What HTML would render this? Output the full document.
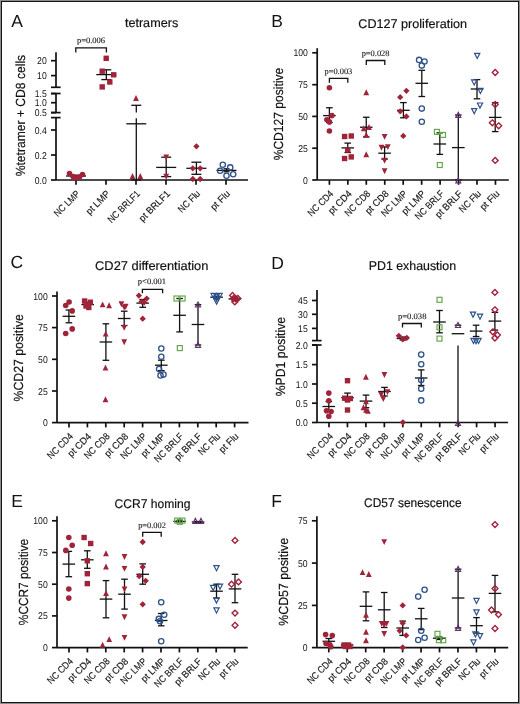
<!DOCTYPE html>
<html><head><meta charset="utf-8"><style>
html,body{margin:0;padding:0;background:#fff;}
svg{display:block;will-change:transform;}
text{text-rendering:geometricPrecision;}
</style></head><body>
<svg width="520" height="704" viewBox="0 0 520 704">
<rect x="0" y="0" width="520" height="704" fill="#8c8c8c"/>
<rect x="1" y="1" width="518" height="702" fill="#161616"/>
<rect x="2" y="2" width="516" height="700" fill="#fff"/>
<text x="11.20" y="26.60" font-family="Liberation Sans" font-size="17.5" fill="#111111">A</text>
<text x="151.55" y="26.90" font-family="Liberation Sans" font-size="12.6" text-anchor="middle" textLength="53.3" lengthAdjust="spacingAndGlyphs" fill="#111111" stroke="#111" stroke-width="0.18">tetramers</text>
<text x="24.80" y="115.60" font-family="Liberation Sans" font-size="13.2" text-anchor="middle" textLength="121.5" lengthAdjust="spacingAndGlyphs" transform="rotate(-90 24.80 115.60)" fill="#111111" stroke="#111" stroke-width="0.18">%tetramer + CD8 cells</text>
<line x1="56.00" y1="52.30" x2="56.00" y2="87.30" stroke="#111111" stroke-width="1.7"/>
<line x1="56.00" y1="93.50" x2="56.00" y2="112.60" stroke="#111111" stroke-width="1.7"/>
<line x1="56.00" y1="117.60" x2="56.00" y2="180.00" stroke="#111111" stroke-width="1.7"/>
<line x1="51.00" y1="87.30" x2="60.60" y2="87.30" stroke="#111111" stroke-width="1.7"/>
<line x1="51.00" y1="93.50" x2="60.60" y2="93.50" stroke="#111111" stroke-width="1.7"/>
<line x1="51.00" y1="112.60" x2="60.60" y2="112.60" stroke="#111111" stroke-width="1.7"/>
<line x1="51.00" y1="117.60" x2="60.60" y2="117.60" stroke="#111111" stroke-width="1.7"/>
<line x1="51.00" y1="60.70" x2="56.00" y2="60.70" stroke="#111111" stroke-width="1.7"/>
<text x="46.70" y="64.20" font-family="Liberation Sans" font-size="9.9" text-anchor="end" textLength="9.6" lengthAdjust="spacingAndGlyphs" fill="#111111">20</text>
<line x1="51.00" y1="75.60" x2="56.00" y2="75.60" stroke="#111111" stroke-width="1.7"/>
<text x="46.70" y="79.10" font-family="Liberation Sans" font-size="9.9" text-anchor="end" textLength="9.6" lengthAdjust="spacingAndGlyphs" fill="#111111">10</text>
<line x1="51.00" y1="93.60" x2="56.00" y2="93.60" stroke="#111111" stroke-width="1.7"/>
<text x="46.70" y="97.10" font-family="Liberation Sans" font-size="9.9" text-anchor="end" textLength="12.0" lengthAdjust="spacingAndGlyphs" fill="#111111">1.5</text>
<line x1="51.00" y1="102.70" x2="56.00" y2="102.70" stroke="#111111" stroke-width="1.7"/>
<text x="46.70" y="106.20" font-family="Liberation Sans" font-size="9.9" text-anchor="end" textLength="12.0" lengthAdjust="spacingAndGlyphs" fill="#111111">1.0</text>
<line x1="51.00" y1="112.60" x2="56.00" y2="112.60" stroke="#111111" stroke-width="1.7"/>
<text x="46.70" y="116.10" font-family="Liberation Sans" font-size="9.9" text-anchor="end" textLength="12.0" lengthAdjust="spacingAndGlyphs" fill="#111111">0.5</text>
<line x1="51.00" y1="130.00" x2="56.00" y2="130.00" stroke="#111111" stroke-width="1.7"/>
<text x="46.70" y="133.50" font-family="Liberation Sans" font-size="9.9" text-anchor="end" textLength="12.0" lengthAdjust="spacingAndGlyphs" fill="#111111">0.4</text>
<line x1="51.00" y1="155.00" x2="56.00" y2="155.00" stroke="#111111" stroke-width="1.7"/>
<text x="46.70" y="158.50" font-family="Liberation Sans" font-size="9.9" text-anchor="end" textLength="12.0" lengthAdjust="spacingAndGlyphs" fill="#111111">0.2</text>
<line x1="51.00" y1="180.00" x2="56.00" y2="180.00" stroke="#111111" stroke-width="1.7"/>
<text x="46.70" y="183.50" font-family="Liberation Sans" font-size="9.9" text-anchor="end" textLength="12.0" lengthAdjust="spacingAndGlyphs" fill="#111111">0.0</text>
<line x1="56.00" y1="180.00" x2="248.00" y2="180.00" stroke="#111111" stroke-width="1.7"/>
<line x1="76.00" y1="180.00" x2="76.00" y2="184.80" stroke="#111111" stroke-width="1.7"/>
<text x="80.60" y="194.40" font-family="Liberation Sans" font-size="9.7" text-anchor="end" textLength="32.3" lengthAdjust="spacingAndGlyphs" transform="rotate(-45 80.60 194.40)" fill="#111111" stroke="#1c1c1c" stroke-width="0.15">NC LMP</text>
<line x1="106.00" y1="180.00" x2="106.00" y2="184.80" stroke="#111111" stroke-width="1.7"/>
<text x="110.60" y="194.40" font-family="Liberation Sans" font-size="9.7" text-anchor="end" textLength="29.4" lengthAdjust="spacingAndGlyphs" transform="rotate(-45 110.60 194.40)" fill="#111111" stroke="#1c1c1c" stroke-width="0.15">pt LMP</text>
<line x1="136.00" y1="180.00" x2="136.00" y2="184.80" stroke="#111111" stroke-width="1.7"/>
<text x="140.60" y="194.40" font-family="Liberation Sans" font-size="9.7" text-anchor="end" textLength="41.3" lengthAdjust="spacingAndGlyphs" transform="rotate(-45 140.60 194.40)" fill="#111111" stroke="#1c1c1c" stroke-width="0.15">NC BRLF1</text>
<line x1="166.00" y1="180.00" x2="166.00" y2="184.80" stroke="#111111" stroke-width="1.7"/>
<text x="170.60" y="194.40" font-family="Liberation Sans" font-size="9.7" text-anchor="end" textLength="39.3" lengthAdjust="spacingAndGlyphs" transform="rotate(-45 170.60 194.40)" fill="#111111" stroke="#1c1c1c" stroke-width="0.15">pt BRLF1</text>
<line x1="196.00" y1="180.00" x2="196.00" y2="184.80" stroke="#111111" stroke-width="1.7"/>
<text x="200.60" y="194.40" font-family="Liberation Sans" font-size="9.7" text-anchor="end" textLength="26.6" lengthAdjust="spacingAndGlyphs" transform="rotate(-45 200.60 194.40)" fill="#111111" stroke="#1c1c1c" stroke-width="0.15">NC Flu</text>
<line x1="226.00" y1="180.00" x2="226.00" y2="184.80" stroke="#111111" stroke-width="1.7"/>
<text x="230.60" y="194.40" font-family="Liberation Sans" font-size="9.7" text-anchor="end" textLength="23.2" lengthAdjust="spacingAndGlyphs" transform="rotate(-45 230.60 194.40)" fill="#111111" stroke="#1c1c1c" stroke-width="0.15">pt Flu</text>
<polyline points="75.8,52.599999999999994 75.8,47.8 106.4,47.8 106.4,52.599999999999994" fill="none" stroke="#111111" stroke-width="1.3"/>
<text x="91.00" y="42.80" font-family="Liberation Serif" font-size="8.4" text-anchor="middle" textLength="28.2" lengthAdjust="spacingAndGlyphs" fill="#1a1a1a" stroke="#1a1a1a" stroke-width="0.12">p=0.006</text>
<line x1="76.00" y1="175.20" x2="76.00" y2="177.00" stroke="#111111" stroke-width="1.3"/>
<line x1="66.00" y1="176.00" x2="86.00" y2="176.00" stroke="#111111" stroke-width="1.3"/>
<line x1="71.00" y1="175.20" x2="81.00" y2="175.20" stroke="#111111" stroke-width="1.3"/>
<line x1="71.00" y1="177.00" x2="81.00" y2="177.00" stroke="#111111" stroke-width="1.3"/>
<line x1="106.30" y1="69.80" x2="106.30" y2="79.60" stroke="#111111" stroke-width="1.3"/>
<line x1="96.30" y1="74.60" x2="116.30" y2="74.60" stroke="#111111" stroke-width="1.3"/>
<line x1="101.30" y1="69.80" x2="111.30" y2="69.80" stroke="#111111" stroke-width="1.3"/>
<line x1="101.30" y1="79.60" x2="111.30" y2="79.60" stroke="#111111" stroke-width="1.3"/>
<line x1="136.30" y1="105.30" x2="136.30" y2="112.40" stroke="#111111" stroke-width="1.3"/>
<line x1="136.30" y1="118.20" x2="136.30" y2="180.00" stroke="#111111" stroke-width="1.3"/>
<line x1="126.30" y1="123.80" x2="146.30" y2="123.80" stroke="#111111" stroke-width="1.3"/>
<line x1="131.30" y1="105.30" x2="141.30" y2="105.30" stroke="#111111" stroke-width="1.3"/>
<line x1="131.30" y1="180.00" x2="141.30" y2="180.00" stroke="#111111" stroke-width="1.3"/>
<line x1="166.20" y1="157.20" x2="166.20" y2="176.60" stroke="#111111" stroke-width="1.3"/>
<line x1="156.20" y1="167.40" x2="176.20" y2="167.40" stroke="#111111" stroke-width="1.3"/>
<line x1="161.20" y1="157.20" x2="171.20" y2="157.20" stroke="#111111" stroke-width="1.3"/>
<line x1="161.20" y1="176.60" x2="171.20" y2="176.60" stroke="#111111" stroke-width="1.3"/>
<line x1="196.40" y1="162.20" x2="196.40" y2="174.30" stroke="#111111" stroke-width="1.3"/>
<line x1="186.40" y1="168.30" x2="206.40" y2="168.30" stroke="#111111" stroke-width="1.3"/>
<line x1="191.40" y1="162.20" x2="201.40" y2="162.20" stroke="#111111" stroke-width="1.3"/>
<line x1="191.40" y1="174.30" x2="201.40" y2="174.30" stroke="#111111" stroke-width="1.3"/>
<line x1="226.50" y1="168.80" x2="226.50" y2="171.80" stroke="#111111" stroke-width="1.3"/>
<line x1="216.50" y1="170.40" x2="236.50" y2="170.40" stroke="#111111" stroke-width="1.3"/>
<line x1="223.50" y1="168.80" x2="229.50" y2="168.80" stroke="#111111" stroke-width="1.3"/>
<line x1="223.50" y1="171.80" x2="229.50" y2="171.80" stroke="#111111" stroke-width="1.3"/>
<circle cx="69.5" cy="173.5" r="2.8" fill="#a02439"/>
<circle cx="73" cy="176.5" r="2.8" fill="#a02439"/>
<circle cx="76.5" cy="178" r="2.8" fill="#a02439"/>
<circle cx="79.5" cy="177" r="2.8" fill="#a02439"/>
<circle cx="82.5" cy="174.5" r="2.8" fill="#a02439"/>
<rect x="103.50" y="55.60" width="5.4" height="5.4" fill="#a02439"/>
<rect x="99.50" y="68.50" width="5.4" height="5.4" fill="#a02439"/>
<rect x="111.00" y="72.10" width="5.4" height="5.4" fill="#a02439"/>
<rect x="107.10" y="79.30" width="5.4" height="5.4" fill="#a02439"/>
<rect x="99.50" y="84.20" width="5.4" height="5.4" fill="#a02439"/>
<polygon points="136.00,95.05 138.90,100.95 133.10,100.95" fill="#a02439"/>
<polygon points="132.50,173.05 135.40,178.95 129.60,178.95" fill="#a02439"/>
<polygon points="140.30,173.05 143.20,178.95 137.40,178.95" fill="#a02439"/>
<polygon points="166.20,160.35 169.10,154.45 163.30,154.45" fill="#a02439"/>
<polygon points="166.20,179.65 169.10,173.75 163.30,173.75" fill="#a02439"/>
<polygon points="196.40,143.15 199.55,146.30 196.40,149.45 193.25,146.30" fill="#a02439"/>
<polygon points="192.80,165.15 195.95,168.30 192.80,171.45 189.65,168.30" fill="#a02439"/>
<polygon points="200.20,165.15 203.35,168.30 200.20,171.45 197.05,168.30" fill="#a02439"/>
<polygon points="192.80,175.85 195.95,179.00 192.80,182.15 189.65,179.00" fill="#a02439"/>
<polygon points="200.20,175.85 203.35,179.00 200.20,182.15 197.05,179.00" fill="#a02439"/>
<circle cx="222.8" cy="164.7" r="2.65" fill="none" stroke="#2d5189" stroke-width="1.3"/>
<circle cx="230.2" cy="167.4" r="2.65" fill="none" stroke="#2d5189" stroke-width="1.3"/>
<circle cx="220.1" cy="170.8" r="2.65" fill="none" stroke="#2d5189" stroke-width="1.3"/>
<circle cx="233.2" cy="174.2" r="2.65" fill="none" stroke="#2d5189" stroke-width="1.3"/>
<circle cx="226.5" cy="175.8" r="2.65" fill="none" stroke="#2d5189" stroke-width="1.3"/>
<text x="271.20" y="26.50" font-family="Liberation Sans" font-size="17.5" fill="#111111">B</text>
<text x="412.65" y="27.80" font-family="Liberation Sans" font-size="12.6" text-anchor="middle" textLength="108.7" lengthAdjust="spacingAndGlyphs" fill="#111111" stroke="#111" stroke-width="0.18">CD127 proliferation</text>
<text x="282.70" y="114.00" font-family="Liberation Sans" font-size="13.2" text-anchor="middle" textLength="92.7" lengthAdjust="spacingAndGlyphs" transform="rotate(-90 282.70 114.00)" fill="#111111" stroke="#111" stroke-width="0.18">%CD127 positive</text>
<line x1="317.20" y1="48.20" x2="317.20" y2="180.00" stroke="#111111" stroke-width="1.7"/>
<line x1="312.20" y1="52.80" x2="317.20" y2="52.80" stroke="#111111" stroke-width="1.7"/>
<text x="307.90" y="56.30" font-family="Liberation Sans" font-size="9.9" text-anchor="end" textLength="14.4" lengthAdjust="spacingAndGlyphs" fill="#111111">100</text>
<line x1="312.20" y1="84.70" x2="317.20" y2="84.70" stroke="#111111" stroke-width="1.7"/>
<text x="307.90" y="88.20" font-family="Liberation Sans" font-size="9.9" text-anchor="end" textLength="9.6" lengthAdjust="spacingAndGlyphs" fill="#111111">75</text>
<line x1="312.20" y1="116.40" x2="317.20" y2="116.40" stroke="#111111" stroke-width="1.7"/>
<text x="307.90" y="119.90" font-family="Liberation Sans" font-size="9.9" text-anchor="end" textLength="9.6" lengthAdjust="spacingAndGlyphs" fill="#111111">50</text>
<line x1="312.20" y1="148.20" x2="317.20" y2="148.20" stroke="#111111" stroke-width="1.7"/>
<text x="307.90" y="151.70" font-family="Liberation Sans" font-size="9.9" text-anchor="end" textLength="9.6" lengthAdjust="spacingAndGlyphs" fill="#111111">25</text>
<line x1="312.20" y1="180.00" x2="317.20" y2="180.00" stroke="#111111" stroke-width="1.7"/>
<text x="307.90" y="183.50" font-family="Liberation Sans" font-size="9.9" text-anchor="end" textLength="4.8" lengthAdjust="spacingAndGlyphs" fill="#111111">0</text>
<line x1="317.20" y1="180.00" x2="508.80" y2="180.00" stroke="#111111" stroke-width="1.7"/>
<line x1="329.40" y1="180.00" x2="329.40" y2="184.80" stroke="#111111" stroke-width="1.7"/>
<text x="334.00" y="194.40" font-family="Liberation Sans" font-size="9.7" text-anchor="end" textLength="31.8" lengthAdjust="spacingAndGlyphs" transform="rotate(-45 334.00 194.40)" fill="#111111" stroke="#1c1c1c" stroke-width="0.15">NC CD4</text>
<line x1="347.85" y1="180.00" x2="347.85" y2="184.80" stroke="#111111" stroke-width="1.7"/>
<text x="352.45" y="194.40" font-family="Liberation Sans" font-size="9.7" text-anchor="end" textLength="28.9" lengthAdjust="spacingAndGlyphs" transform="rotate(-45 352.45 194.40)" fill="#111111" stroke="#1c1c1c" stroke-width="0.15">pt CD4</text>
<line x1="366.30" y1="180.00" x2="366.30" y2="184.80" stroke="#111111" stroke-width="1.7"/>
<text x="370.90" y="194.40" font-family="Liberation Sans" font-size="9.7" text-anchor="end" textLength="31.8" lengthAdjust="spacingAndGlyphs" transform="rotate(-45 370.90 194.40)" fill="#111111" stroke="#1c1c1c" stroke-width="0.15">NC CD8</text>
<line x1="384.75" y1="180.00" x2="384.75" y2="184.80" stroke="#111111" stroke-width="1.7"/>
<text x="389.35" y="194.40" font-family="Liberation Sans" font-size="9.7" text-anchor="end" textLength="28.9" lengthAdjust="spacingAndGlyphs" transform="rotate(-45 389.35 194.40)" fill="#111111" stroke="#1c1c1c" stroke-width="0.15">pt CD8</text>
<line x1="403.20" y1="180.00" x2="403.20" y2="184.80" stroke="#111111" stroke-width="1.7"/>
<text x="407.80" y="194.40" font-family="Liberation Sans" font-size="9.7" text-anchor="end" textLength="32.3" lengthAdjust="spacingAndGlyphs" transform="rotate(-45 407.80 194.40)" fill="#111111" stroke="#1c1c1c" stroke-width="0.15">NC LMP</text>
<line x1="421.65" y1="180.00" x2="421.65" y2="184.80" stroke="#111111" stroke-width="1.7"/>
<text x="426.25" y="194.40" font-family="Liberation Sans" font-size="9.7" text-anchor="end" textLength="29.4" lengthAdjust="spacingAndGlyphs" transform="rotate(-45 426.25 194.40)" fill="#111111" stroke="#1c1c1c" stroke-width="0.15">pt LMP</text>
<line x1="440.10" y1="180.00" x2="440.10" y2="184.80" stroke="#111111" stroke-width="1.7"/>
<text x="444.70" y="194.40" font-family="Liberation Sans" font-size="9.7" text-anchor="end" textLength="36.6" lengthAdjust="spacingAndGlyphs" transform="rotate(-45 444.70 194.40)" fill="#111111" stroke="#1c1c1c" stroke-width="0.15">NC BRLF</text>
<line x1="458.55" y1="180.00" x2="458.55" y2="184.80" stroke="#111111" stroke-width="1.7"/>
<text x="463.15" y="194.40" font-family="Liberation Sans" font-size="9.7" text-anchor="end" textLength="34.1" lengthAdjust="spacingAndGlyphs" transform="rotate(-45 463.15 194.40)" fill="#111111" stroke="#1c1c1c" stroke-width="0.15">pt BRLF</text>
<line x1="477.00" y1="180.00" x2="477.00" y2="184.80" stroke="#111111" stroke-width="1.7"/>
<text x="481.60" y="194.40" font-family="Liberation Sans" font-size="9.7" text-anchor="end" textLength="26.6" lengthAdjust="spacingAndGlyphs" transform="rotate(-45 481.60 194.40)" fill="#111111" stroke="#1c1c1c" stroke-width="0.15">NC Flu</text>
<line x1="495.45" y1="180.00" x2="495.45" y2="184.80" stroke="#111111" stroke-width="1.7"/>
<text x="500.05" y="194.40" font-family="Liberation Sans" font-size="9.7" text-anchor="end" textLength="23.2" lengthAdjust="spacingAndGlyphs" transform="rotate(-45 500.05 194.40)" fill="#111111" stroke="#1c1c1c" stroke-width="0.15">pt Flu</text>
<polyline points="329.4,82.7 329.4,78.3 347.8,78.3 347.8,82.7" fill="none" stroke="#111111" stroke-width="1.3"/>
<text x="338.40" y="74.00" font-family="Liberation Serif" font-size="8.4" text-anchor="middle" textLength="27.9" lengthAdjust="spacingAndGlyphs" fill="#1a1a1a" stroke="#1a1a1a" stroke-width="0.12">p=0.003</text>
<polyline points="366.3,64.9 366.3,60.5 384.8,60.5 384.8,64.9" fill="none" stroke="#111111" stroke-width="1.3"/>
<text x="375.60" y="55.90" font-family="Liberation Serif" font-size="8.4" text-anchor="middle" textLength="27.9" lengthAdjust="spacingAndGlyphs" fill="#1a1a1a" stroke="#1a1a1a" stroke-width="0.12">p=0.028</text>
<line x1="329.40" y1="107.75" x2="329.40" y2="122.50" stroke="#111111" stroke-width="1.3"/>
<line x1="323.10" y1="115.60" x2="335.70" y2="115.60" stroke="#111111" stroke-width="1.3"/>
<line x1="326.10" y1="107.75" x2="332.70" y2="107.75" stroke="#111111" stroke-width="1.3"/>
<line x1="326.10" y1="122.50" x2="332.70" y2="122.50" stroke="#111111" stroke-width="1.3"/>
<line x1="347.75" y1="143.10" x2="347.75" y2="152.50" stroke="#111111" stroke-width="1.3"/>
<line x1="341.45" y1="147.90" x2="354.05" y2="147.90" stroke="#111111" stroke-width="1.3"/>
<line x1="344.45" y1="143.10" x2="351.05" y2="143.10" stroke="#111111" stroke-width="1.3"/>
<line x1="344.45" y1="152.50" x2="351.05" y2="152.50" stroke="#111111" stroke-width="1.3"/>
<line x1="366.25" y1="117.25" x2="366.25" y2="136.90" stroke="#111111" stroke-width="1.3"/>
<line x1="359.95" y1="127.25" x2="372.55" y2="127.25" stroke="#111111" stroke-width="1.3"/>
<line x1="362.95" y1="117.25" x2="369.55" y2="117.25" stroke="#111111" stroke-width="1.3"/>
<line x1="362.95" y1="136.90" x2="369.55" y2="136.90" stroke="#111111" stroke-width="1.3"/>
<line x1="384.60" y1="146.90" x2="384.60" y2="159.10" stroke="#111111" stroke-width="1.3"/>
<line x1="378.30" y1="153.20" x2="390.90" y2="153.20" stroke="#111111" stroke-width="1.3"/>
<line x1="381.30" y1="146.90" x2="387.90" y2="146.90" stroke="#111111" stroke-width="1.3"/>
<line x1="381.30" y1="159.10" x2="387.90" y2="159.10" stroke="#111111" stroke-width="1.3"/>
<line x1="403.40" y1="102.60" x2="403.40" y2="117.80" stroke="#111111" stroke-width="1.3"/>
<line x1="397.10" y1="110.30" x2="409.70" y2="110.30" stroke="#111111" stroke-width="1.3"/>
<line x1="400.10" y1="102.60" x2="406.70" y2="102.60" stroke="#111111" stroke-width="1.3"/>
<line x1="400.10" y1="117.80" x2="406.70" y2="117.80" stroke="#111111" stroke-width="1.3"/>
<line x1="421.80" y1="70.30" x2="421.80" y2="96.50" stroke="#111111" stroke-width="1.3"/>
<line x1="415.50" y1="83.30" x2="428.10" y2="83.30" stroke="#111111" stroke-width="1.3"/>
<line x1="418.50" y1="70.30" x2="425.10" y2="70.30" stroke="#111111" stroke-width="1.3"/>
<line x1="418.50" y1="96.50" x2="425.10" y2="96.50" stroke="#111111" stroke-width="1.3"/>
<line x1="439.80" y1="132.80" x2="439.80" y2="154.40" stroke="#111111" stroke-width="1.3"/>
<line x1="433.50" y1="144.00" x2="446.10" y2="144.00" stroke="#111111" stroke-width="1.3"/>
<line x1="436.50" y1="132.80" x2="443.10" y2="132.80" stroke="#111111" stroke-width="1.3"/>
<line x1="436.50" y1="154.40" x2="443.10" y2="154.40" stroke="#111111" stroke-width="1.3"/>
<line x1="458.30" y1="115.00" x2="458.30" y2="180.00" stroke="#111111" stroke-width="1.3"/>
<line x1="452.00" y1="147.60" x2="464.60" y2="147.60" stroke="#111111" stroke-width="1.3"/>
<line x1="455.00" y1="115.00" x2="461.60" y2="115.00" stroke="#111111" stroke-width="1.3"/>
<line x1="455.00" y1="180.00" x2="461.60" y2="180.00" stroke="#111111" stroke-width="1.3"/>
<line x1="477.00" y1="79.60" x2="477.00" y2="98.80" stroke="#111111" stroke-width="1.3"/>
<line x1="470.70" y1="89.00" x2="483.30" y2="89.00" stroke="#111111" stroke-width="1.3"/>
<line x1="473.70" y1="79.60" x2="480.30" y2="79.60" stroke="#111111" stroke-width="1.3"/>
<line x1="473.70" y1="98.80" x2="480.30" y2="98.80" stroke="#111111" stroke-width="1.3"/>
<line x1="495.20" y1="102.70" x2="495.20" y2="131.60" stroke="#111111" stroke-width="1.3"/>
<line x1="488.90" y1="117.40" x2="501.50" y2="117.40" stroke="#111111" stroke-width="1.3"/>
<line x1="491.90" y1="102.70" x2="498.50" y2="102.70" stroke="#111111" stroke-width="1.3"/>
<line x1="491.90" y1="131.60" x2="498.50" y2="131.60" stroke="#111111" stroke-width="1.3"/>
<circle cx="329.4" cy="87.75" r="2.8" fill="#a02439"/>
<circle cx="331.9" cy="115.6" r="2.8" fill="#a02439"/>
<circle cx="326.9" cy="119.75" r="2.8" fill="#a02439"/>
<circle cx="329.4" cy="121.9" r="2.8" fill="#a02439"/>
<circle cx="329.4" cy="131" r="2.8" fill="#a02439"/>
<rect x="341.90" y="133.80" width="5.4" height="5.4" fill="#a02439"/>
<rect x="348.55" y="133.30" width="5.4" height="5.4" fill="#a02439"/>
<rect x="345.05" y="147.30" width="5.4" height="5.4" fill="#a02439"/>
<rect x="341.90" y="155.80" width="5.4" height="5.4" fill="#a02439"/>
<rect x="348.55" y="154.20" width="5.4" height="5.4" fill="#a02439"/>
<polygon points="366.25,89.35 369.15,95.25 363.35,95.25" fill="#a02439"/>
<polygon points="363.75,125.35 366.65,131.25 360.85,131.25" fill="#a02439"/>
<polygon points="369.00,124.10 371.90,130.00 366.10,130.00" fill="#a02439"/>
<polygon points="366.25,131.85 369.15,137.75 363.35,137.75" fill="#a02439"/>
<polygon points="366.25,151.25 369.15,157.15 363.35,157.15" fill="#a02439"/>
<polygon points="384.60,139.85 387.50,133.95 381.70,133.95" fill="#a02439"/>
<polygon points="381.50,150.75 384.40,144.85 378.60,144.85" fill="#a02439"/>
<polygon points="387.80,150.05 390.70,144.15 384.90,144.15" fill="#a02439"/>
<polygon points="384.60,163.75 387.50,157.85 381.70,157.85" fill="#a02439"/>
<polygon points="384.60,174.15 387.50,168.25 381.70,168.25" fill="#a02439"/>
<polygon points="406.40,87.65 409.55,90.80 406.40,93.95 403.25,90.80" fill="#a02439"/>
<polygon points="400.20,94.05 403.35,97.20 400.20,100.35 397.05,97.20" fill="#a02439"/>
<polygon points="400.20,108.15 403.35,111.30 400.20,114.45 397.05,111.30" fill="#a02439"/>
<polygon points="406.40,113.25 409.55,116.40 406.40,119.55 403.25,116.40" fill="#a02439"/>
<polygon points="403.30,132.75 406.45,135.90 403.30,139.05 400.15,135.90" fill="#a02439"/>
<circle cx="419.1" cy="59.9" r="2.65" fill="none" stroke="#2d5189" stroke-width="1.3"/>
<circle cx="424.5" cy="61.5" r="2.65" fill="none" stroke="#2d5189" stroke-width="1.3"/>
<circle cx="421.8" cy="65.6" r="2.65" fill="none" stroke="#2d5189" stroke-width="1.3"/>
<circle cx="421.8" cy="108.6" r="2.65" fill="none" stroke="#2d5189" stroke-width="1.3"/>
<circle cx="421.8" cy="121.8" r="2.65" fill="none" stroke="#2d5189" stroke-width="1.3"/>
<rect x="434.40" y="129.40" width="5.0" height="5.0" fill="none" stroke="#62a548" stroke-width="1.15"/>
<rect x="440.50" y="132.40" width="5.0" height="5.0" fill="none" stroke="#62a548" stroke-width="1.15"/>
<rect x="437.30" y="162.50" width="5.0" height="5.0" fill="none" stroke="#62a548" stroke-width="1.15"/>
<polygon points="458.30,112.40 460.80,117.30 455.80,117.30" fill="none" stroke="#63306e" stroke-width="1.2"/>
<polygon points="458.30,178.00 460.80,182.90 455.80,182.90" fill="none" stroke="#63306e" stroke-width="1.2"/>
<polygon points="477.20,58.40 479.80,53.30 474.60,53.30" fill="none" stroke="#2d5189" stroke-width="1.2"/>
<polygon points="474.20,85.00 476.80,79.90 471.60,79.90" fill="none" stroke="#2d5189" stroke-width="1.2"/>
<polygon points="480.40,93.50 483.00,88.40 477.80,88.40" fill="none" stroke="#2d5189" stroke-width="1.2"/>
<polygon points="480.00,108.10 482.60,103.00 477.40,103.00" fill="none" stroke="#2d5189" stroke-width="1.2"/>
<polygon points="474.20,113.70 476.80,108.60 471.60,108.60" fill="none" stroke="#2d5189" stroke-width="1.2"/>
<polygon points="495.20,69.55 498.15,72.50 495.20,75.45 492.25,72.50" fill="none" stroke="#a21f39" stroke-width="1.35"/>
<polygon points="495.20,101.55 498.15,104.50 495.20,107.45 492.25,104.50" fill="none" stroke="#a21f39" stroke-width="1.35"/>
<polygon points="492.30,119.85 495.25,122.80 492.30,125.75 489.35,122.80" fill="none" stroke="#a21f39" stroke-width="1.35"/>
<polygon points="498.70,122.85 501.65,125.80 498.70,128.75 495.75,125.80" fill="none" stroke="#a21f39" stroke-width="1.35"/>
<polygon points="495.20,157.45 498.15,160.40 495.20,163.35 492.25,160.40" fill="none" stroke="#a21f39" stroke-width="1.35"/>
<text x="10.50" y="267.90" font-family="Liberation Sans" font-size="17.5" fill="#111111">C</text>
<text x="151.75" y="269.80" font-family="Liberation Sans" font-size="12.6" text-anchor="middle" textLength="113.3" lengthAdjust="spacingAndGlyphs" fill="#111111" stroke="#111" stroke-width="0.18">CD27 differentiation</text>
<text x="23.40" y="357.80" font-family="Liberation Sans" font-size="13.2" text-anchor="middle" textLength="87.4" lengthAdjust="spacingAndGlyphs" transform="rotate(-90 23.40 357.80)" fill="#111111" stroke="#111" stroke-width="0.18">%CD27 positive</text>
<line x1="57.00" y1="291.60" x2="57.00" y2="422.60" stroke="#111111" stroke-width="1.7"/>
<line x1="52.00" y1="296.00" x2="57.00" y2="296.00" stroke="#111111" stroke-width="1.7"/>
<text x="47.70" y="299.50" font-family="Liberation Sans" font-size="9.9" text-anchor="end" textLength="14.4" lengthAdjust="spacingAndGlyphs" fill="#111111">100</text>
<line x1="52.00" y1="327.60" x2="57.00" y2="327.60" stroke="#111111" stroke-width="1.7"/>
<text x="47.70" y="331.10" font-family="Liberation Sans" font-size="9.9" text-anchor="end" textLength="9.6" lengthAdjust="spacingAndGlyphs" fill="#111111">75</text>
<line x1="52.00" y1="359.30" x2="57.00" y2="359.30" stroke="#111111" stroke-width="1.7"/>
<text x="47.70" y="362.80" font-family="Liberation Sans" font-size="9.9" text-anchor="end" textLength="9.6" lengthAdjust="spacingAndGlyphs" fill="#111111">50</text>
<line x1="52.00" y1="391.00" x2="57.00" y2="391.00" stroke="#111111" stroke-width="1.7"/>
<text x="47.70" y="394.50" font-family="Liberation Sans" font-size="9.9" text-anchor="end" textLength="9.6" lengthAdjust="spacingAndGlyphs" fill="#111111">25</text>
<line x1="52.00" y1="422.60" x2="57.00" y2="422.60" stroke="#111111" stroke-width="1.7"/>
<text x="47.70" y="426.10" font-family="Liberation Sans" font-size="9.9" text-anchor="end" textLength="4.8" lengthAdjust="spacingAndGlyphs" fill="#111111">0</text>
<line x1="57.00" y1="422.60" x2="248.50" y2="422.60" stroke="#111111" stroke-width="1.7"/>
<line x1="69.00" y1="422.60" x2="69.00" y2="427.40" stroke="#111111" stroke-width="1.7"/>
<text x="73.60" y="437.00" font-family="Liberation Sans" font-size="9.7" text-anchor="end" textLength="31.8" lengthAdjust="spacingAndGlyphs" transform="rotate(-45 73.60 437.00)" fill="#111111" stroke="#1c1c1c" stroke-width="0.15">NC CD4</text>
<line x1="87.40" y1="422.60" x2="87.40" y2="427.40" stroke="#111111" stroke-width="1.7"/>
<text x="92.00" y="437.00" font-family="Liberation Sans" font-size="9.7" text-anchor="end" textLength="28.9" lengthAdjust="spacingAndGlyphs" transform="rotate(-45 92.00 437.00)" fill="#111111" stroke="#1c1c1c" stroke-width="0.15">pt CD4</text>
<line x1="105.80" y1="422.60" x2="105.80" y2="427.40" stroke="#111111" stroke-width="1.7"/>
<text x="110.40" y="437.00" font-family="Liberation Sans" font-size="9.7" text-anchor="end" textLength="31.8" lengthAdjust="spacingAndGlyphs" transform="rotate(-45 110.40 437.00)" fill="#111111" stroke="#1c1c1c" stroke-width="0.15">NC CD8</text>
<line x1="124.20" y1="422.60" x2="124.20" y2="427.40" stroke="#111111" stroke-width="1.7"/>
<text x="128.80" y="437.00" font-family="Liberation Sans" font-size="9.7" text-anchor="end" textLength="28.9" lengthAdjust="spacingAndGlyphs" transform="rotate(-45 128.80 437.00)" fill="#111111" stroke="#1c1c1c" stroke-width="0.15">pt CD8</text>
<line x1="142.60" y1="422.60" x2="142.60" y2="427.40" stroke="#111111" stroke-width="1.7"/>
<text x="147.20" y="437.00" font-family="Liberation Sans" font-size="9.7" text-anchor="end" textLength="32.3" lengthAdjust="spacingAndGlyphs" transform="rotate(-45 147.20 437.00)" fill="#111111" stroke="#1c1c1c" stroke-width="0.15">NC LMP</text>
<line x1="161.00" y1="422.60" x2="161.00" y2="427.40" stroke="#111111" stroke-width="1.7"/>
<text x="165.60" y="437.00" font-family="Liberation Sans" font-size="9.7" text-anchor="end" textLength="29.4" lengthAdjust="spacingAndGlyphs" transform="rotate(-45 165.60 437.00)" fill="#111111" stroke="#1c1c1c" stroke-width="0.15">pt LMP</text>
<line x1="179.40" y1="422.60" x2="179.40" y2="427.40" stroke="#111111" stroke-width="1.7"/>
<text x="184.00" y="437.00" font-family="Liberation Sans" font-size="9.7" text-anchor="end" textLength="36.6" lengthAdjust="spacingAndGlyphs" transform="rotate(-45 184.00 437.00)" fill="#111111" stroke="#1c1c1c" stroke-width="0.15">NC BRLF</text>
<line x1="197.80" y1="422.60" x2="197.80" y2="427.40" stroke="#111111" stroke-width="1.7"/>
<text x="202.40" y="437.00" font-family="Liberation Sans" font-size="9.7" text-anchor="end" textLength="34.1" lengthAdjust="spacingAndGlyphs" transform="rotate(-45 202.40 437.00)" fill="#111111" stroke="#1c1c1c" stroke-width="0.15">pt BRLF</text>
<line x1="216.20" y1="422.60" x2="216.20" y2="427.40" stroke="#111111" stroke-width="1.7"/>
<text x="220.80" y="437.00" font-family="Liberation Sans" font-size="9.7" text-anchor="end" textLength="26.6" lengthAdjust="spacingAndGlyphs" transform="rotate(-45 220.80 437.00)" fill="#111111" stroke="#1c1c1c" stroke-width="0.15">NC Flu</text>
<line x1="234.60" y1="422.60" x2="234.60" y2="427.40" stroke="#111111" stroke-width="1.7"/>
<text x="239.20" y="437.00" font-family="Liberation Sans" font-size="9.7" text-anchor="end" textLength="23.2" lengthAdjust="spacingAndGlyphs" transform="rotate(-45 239.20 437.00)" fill="#111111" stroke="#1c1c1c" stroke-width="0.15">pt Flu</text>
<polyline points="142.4,293.3 142.4,289.3 162.6,289.3 162.6,293.3" fill="none" stroke="#111111" stroke-width="1.3"/>
<text x="152.00" y="284.10" font-family="Liberation Serif" font-size="8.4" text-anchor="middle" textLength="28.3" lengthAdjust="spacingAndGlyphs" fill="#1a1a1a" stroke="#1a1a1a" stroke-width="0.12">p&lt;0.001</text>
<line x1="68.90" y1="310.00" x2="68.90" y2="322.80" stroke="#111111" stroke-width="1.3"/>
<line x1="62.60" y1="316.30" x2="75.20" y2="316.30" stroke="#111111" stroke-width="1.3"/>
<line x1="65.60" y1="310.00" x2="72.20" y2="310.00" stroke="#111111" stroke-width="1.3"/>
<line x1="65.60" y1="322.80" x2="72.20" y2="322.80" stroke="#111111" stroke-width="1.3"/>
<line x1="87.70" y1="302.50" x2="87.70" y2="306.50" stroke="#111111" stroke-width="1.3"/>
<line x1="81.40" y1="304.60" x2="94.00" y2="304.60" stroke="#111111" stroke-width="1.3"/>
<line x1="84.40" y1="302.50" x2="91.00" y2="302.50" stroke="#111111" stroke-width="1.3"/>
<line x1="84.40" y1="306.50" x2="91.00" y2="306.50" stroke="#111111" stroke-width="1.3"/>
<line x1="105.90" y1="323.80" x2="105.90" y2="360.30" stroke="#111111" stroke-width="1.3"/>
<line x1="99.60" y1="342.00" x2="112.20" y2="342.00" stroke="#111111" stroke-width="1.3"/>
<line x1="102.60" y1="323.80" x2="109.20" y2="323.80" stroke="#111111" stroke-width="1.3"/>
<line x1="102.60" y1="360.30" x2="109.20" y2="360.30" stroke="#111111" stroke-width="1.3"/>
<line x1="124.20" y1="311.20" x2="124.20" y2="325.50" stroke="#111111" stroke-width="1.3"/>
<line x1="117.90" y1="318.50" x2="130.50" y2="318.50" stroke="#111111" stroke-width="1.3"/>
<line x1="120.90" y1="311.20" x2="127.50" y2="311.20" stroke="#111111" stroke-width="1.3"/>
<line x1="120.90" y1="325.50" x2="127.50" y2="325.50" stroke="#111111" stroke-width="1.3"/>
<line x1="142.70" y1="299.50" x2="142.70" y2="307.30" stroke="#111111" stroke-width="1.3"/>
<line x1="136.40" y1="303.10" x2="149.00" y2="303.10" stroke="#111111" stroke-width="1.3"/>
<line x1="139.40" y1="299.50" x2="146.00" y2="299.50" stroke="#111111" stroke-width="1.3"/>
<line x1="139.40" y1="307.30" x2="146.00" y2="307.30" stroke="#111111" stroke-width="1.3"/>
<line x1="161.30" y1="360.20" x2="161.30" y2="370.60" stroke="#111111" stroke-width="1.3"/>
<line x1="155.00" y1="365.20" x2="167.60" y2="365.20" stroke="#111111" stroke-width="1.3"/>
<line x1="158.00" y1="360.20" x2="164.60" y2="360.20" stroke="#111111" stroke-width="1.3"/>
<line x1="158.00" y1="370.60" x2="164.60" y2="370.60" stroke="#111111" stroke-width="1.3"/>
<line x1="179.60" y1="298.50" x2="179.60" y2="331.90" stroke="#111111" stroke-width="1.3"/>
<line x1="173.30" y1="315.30" x2="185.90" y2="315.30" stroke="#111111" stroke-width="1.3"/>
<line x1="176.30" y1="298.50" x2="182.90" y2="298.50" stroke="#111111" stroke-width="1.3"/>
<line x1="176.30" y1="331.90" x2="182.90" y2="331.90" stroke="#111111" stroke-width="1.3"/>
<line x1="198.00" y1="304.70" x2="198.00" y2="345.00" stroke="#111111" stroke-width="1.3"/>
<line x1="191.70" y1="324.50" x2="204.30" y2="324.50" stroke="#111111" stroke-width="1.3"/>
<line x1="194.70" y1="304.70" x2="201.30" y2="304.70" stroke="#111111" stroke-width="1.3"/>
<line x1="194.70" y1="345.00" x2="201.30" y2="345.00" stroke="#111111" stroke-width="1.3"/>
<line x1="216.60" y1="296.50" x2="216.60" y2="298.00" stroke="#111111" stroke-width="1.3"/>
<line x1="210.30" y1="297.20" x2="222.90" y2="297.20" stroke="#111111" stroke-width="1.3"/>
<line x1="213.30" y1="296.50" x2="219.90" y2="296.50" stroke="#111111" stroke-width="1.3"/>
<line x1="213.30" y1="298.00" x2="219.90" y2="298.00" stroke="#111111" stroke-width="1.3"/>
<line x1="234.80" y1="297.50" x2="234.80" y2="300.30" stroke="#111111" stroke-width="1.3"/>
<line x1="228.50" y1="298.90" x2="241.10" y2="298.90" stroke="#111111" stroke-width="1.3"/>
<line x1="231.50" y1="297.50" x2="238.10" y2="297.50" stroke="#111111" stroke-width="1.3"/>
<line x1="231.50" y1="300.30" x2="238.10" y2="300.30" stroke="#111111" stroke-width="1.3"/>
<circle cx="69.1" cy="302" r="2.8" fill="#a02439"/>
<circle cx="65.7" cy="305.5" r="2.8" fill="#a02439"/>
<circle cx="72.2" cy="310.9" r="2.8" fill="#a02439"/>
<circle cx="72.2" cy="328.9" r="2.8" fill="#a02439"/>
<circle cx="65.7" cy="333.5" r="2.8" fill="#a02439"/>
<rect x="81.90" y="298.30" width="5.4" height="5.4" fill="#a02439"/>
<rect x="87.60" y="299.50" width="5.4" height="5.4" fill="#a02439"/>
<rect x="83.30" y="303.30" width="5.4" height="5.4" fill="#a02439"/>
<rect x="86.10" y="304.80" width="5.4" height="5.4" fill="#a02439"/>
<rect x="84.70" y="301.60" width="5.4" height="5.4" fill="#a02439"/>
<polygon points="102.60,301.45 105.50,307.35 99.70,307.35" fill="#a02439"/>
<polygon points="109.10,302.35 112.00,308.25 106.20,308.25" fill="#a02439"/>
<polygon points="105.70,330.65 108.60,336.55 102.80,336.55" fill="#a02439"/>
<polygon points="105.50,364.55 108.40,370.45 102.60,370.45" fill="#a02439"/>
<polygon points="105.50,396.35 108.40,402.25 102.60,402.25" fill="#a02439"/>
<polygon points="121.40,307.15 124.30,301.25 118.50,301.25" fill="#a02439"/>
<polygon points="125.70,309.75 128.60,303.85 122.80,303.85" fill="#a02439"/>
<polygon points="124.20,310.55 127.10,304.65 121.30,304.65" fill="#a02439"/>
<polygon points="124.20,330.85 127.10,324.95 121.30,324.95" fill="#a02439"/>
<polygon points="124.20,345.15 127.10,339.25 121.30,339.25" fill="#a02439"/>
<polygon points="138.90,292.45 142.05,295.60 138.90,298.75 135.75,295.60" fill="#a02439"/>
<polygon points="146.70,295.45 149.85,298.60 146.70,301.75 143.55,298.60" fill="#a02439"/>
<polygon points="141.60,298.45 144.75,301.60 141.60,304.75 138.45,301.60" fill="#a02439"/>
<polygon points="144.20,299.25 147.35,302.40 144.20,305.55 141.05,302.40" fill="#a02439"/>
<polygon points="142.70,315.55 145.85,318.70 142.70,321.85 139.55,318.70" fill="#a02439"/>
<circle cx="161.3" cy="348.5" r="2.65" fill="none" stroke="#2d5189" stroke-width="1.3"/>
<circle cx="161.3" cy="356.7" r="2.65" fill="none" stroke="#2d5189" stroke-width="1.3"/>
<circle cx="159.1" cy="369.1" r="2.65" fill="none" stroke="#2d5189" stroke-width="1.3"/>
<circle cx="160.5" cy="375.4" r="2.65" fill="none" stroke="#2d5189" stroke-width="1.3"/>
<circle cx="163.5" cy="374.6" r="2.65" fill="none" stroke="#2d5189" stroke-width="1.3"/>
<rect x="174.00" y="296.00" width="5.0" height="5.0" fill="none" stroke="#62a548" stroke-width="1.15"/>
<rect x="180.10" y="296.00" width="5.0" height="5.0" fill="none" stroke="#62a548" stroke-width="1.15"/>
<rect x="177.30" y="345.60" width="5.0" height="5.0" fill="none" stroke="#62a548" stroke-width="1.15"/>
<polygon points="198.00,302.10 200.50,307.00 195.50,307.00" fill="none" stroke="#63306e" stroke-width="1.2"/>
<polygon points="198.00,342.40 200.50,347.30 195.50,347.30" fill="none" stroke="#63306e" stroke-width="1.2"/>
<polygon points="213.60,298.50 216.20,293.40 211.00,293.40" fill="none" stroke="#2d5189" stroke-width="1.2"/>
<polygon points="219.60,298.50 222.20,293.40 217.00,293.40" fill="none" stroke="#2d5189" stroke-width="1.2"/>
<polygon points="216.60,301.20 219.20,296.10 214.00,296.10" fill="none" stroke="#2d5189" stroke-width="1.2"/>
<polygon points="216.60,304.20 219.20,299.10 214.00,299.10" fill="none" stroke="#2d5189" stroke-width="1.2"/>
<polygon points="216.60,299.20 219.20,294.10 214.00,294.10" fill="none" stroke="#2d5189" stroke-width="1.2"/>
<polygon points="232.50,292.45 235.45,295.40 232.50,298.35 229.55,295.40" fill="none" stroke="#a21f39" stroke-width="1.35"/>
<polygon points="237.90,295.45 240.85,298.40 237.90,301.35 234.95,298.40" fill="none" stroke="#a21f39" stroke-width="1.35"/>
<polygon points="234.80,298.95 237.75,301.90 234.80,304.85 231.85,301.90" fill="none" stroke="#a21f39" stroke-width="1.35"/>
<polygon points="236.00,296.05 238.95,299.00 236.00,301.95 233.05,299.00" fill="none" stroke="#a21f39" stroke-width="1.35"/>
<polygon points="233.50,295.55 236.45,298.50 233.50,301.45 230.55,298.50" fill="none" stroke="#a21f39" stroke-width="1.35"/>
<text x="271.30" y="269.20" font-family="Liberation Sans" font-size="17.5" fill="#111111">D</text>
<text x="412.40" y="270.00" font-family="Liberation Sans" font-size="12.6" text-anchor="middle" textLength="87.4" lengthAdjust="spacingAndGlyphs" fill="#111111" stroke="#111" stroke-width="0.18">PD1 exhaustion</text>
<text x="285.00" y="356.60" font-family="Liberation Sans" font-size="13.2" text-anchor="middle" textLength="79.5" lengthAdjust="spacingAndGlyphs" transform="rotate(-90 285.00 356.60)" fill="#111111" stroke="#111" stroke-width="0.18">%PD1 positive</text>
<line x1="317.00" y1="290.00" x2="317.00" y2="340.60" stroke="#111111" stroke-width="1.7"/>
<line x1="317.00" y1="345.00" x2="317.00" y2="422.50" stroke="#111111" stroke-width="1.7"/>
<line x1="312.00" y1="340.60" x2="321.60" y2="340.60" stroke="#111111" stroke-width="1.7"/>
<line x1="312.00" y1="345.00" x2="321.60" y2="345.00" stroke="#111111" stroke-width="1.7"/>
<line x1="312.00" y1="300.50" x2="317.00" y2="300.50" stroke="#111111" stroke-width="1.7"/>
<text x="307.70" y="304.00" font-family="Liberation Sans" font-size="9.9" text-anchor="end" textLength="9.6" lengthAdjust="spacingAndGlyphs" fill="#111111">45</text>
<line x1="312.00" y1="314.30" x2="317.00" y2="314.30" stroke="#111111" stroke-width="1.7"/>
<text x="307.70" y="317.80" font-family="Liberation Sans" font-size="9.9" text-anchor="end" textLength="9.6" lengthAdjust="spacingAndGlyphs" fill="#111111">30</text>
<line x1="312.00" y1="328.40" x2="317.00" y2="328.40" stroke="#111111" stroke-width="1.7"/>
<text x="307.70" y="331.90" font-family="Liberation Sans" font-size="9.9" text-anchor="end" textLength="9.6" lengthAdjust="spacingAndGlyphs" fill="#111111">15</text>
<line x1="312.00" y1="345.00" x2="317.00" y2="345.00" stroke="#111111" stroke-width="1.7"/>
<text x="307.70" y="348.50" font-family="Liberation Sans" font-size="9.9" text-anchor="end" textLength="12.0" lengthAdjust="spacingAndGlyphs" fill="#111111">2.0</text>
<line x1="312.00" y1="364.60" x2="317.00" y2="364.60" stroke="#111111" stroke-width="1.7"/>
<text x="307.70" y="368.10" font-family="Liberation Sans" font-size="9.9" text-anchor="end" textLength="12.0" lengthAdjust="spacingAndGlyphs" fill="#111111">1.5</text>
<line x1="312.00" y1="384.00" x2="317.00" y2="384.00" stroke="#111111" stroke-width="1.7"/>
<text x="307.70" y="387.50" font-family="Liberation Sans" font-size="9.9" text-anchor="end" textLength="12.0" lengthAdjust="spacingAndGlyphs" fill="#111111">1.0</text>
<line x1="312.00" y1="403.20" x2="317.00" y2="403.20" stroke="#111111" stroke-width="1.7"/>
<text x="307.70" y="406.70" font-family="Liberation Sans" font-size="9.9" text-anchor="end" textLength="12.0" lengthAdjust="spacingAndGlyphs" fill="#111111">0.5</text>
<line x1="312.00" y1="422.50" x2="317.00" y2="422.50" stroke="#111111" stroke-width="1.7"/>
<text x="307.70" y="426.00" font-family="Liberation Sans" font-size="9.9" text-anchor="end" textLength="12.0" lengthAdjust="spacingAndGlyphs" fill="#111111">0.0</text>
<line x1="317.00" y1="422.50" x2="508.10" y2="422.50" stroke="#111111" stroke-width="1.7"/>
<line x1="329.00" y1="422.50" x2="329.00" y2="427.30" stroke="#111111" stroke-width="1.7"/>
<text x="333.60" y="436.90" font-family="Liberation Sans" font-size="9.7" text-anchor="end" textLength="31.8" lengthAdjust="spacingAndGlyphs" transform="rotate(-45 333.60 436.90)" fill="#111111" stroke="#1c1c1c" stroke-width="0.15">NC CD4</text>
<line x1="347.45" y1="422.50" x2="347.45" y2="427.30" stroke="#111111" stroke-width="1.7"/>
<text x="352.05" y="436.90" font-family="Liberation Sans" font-size="9.7" text-anchor="end" textLength="28.9" lengthAdjust="spacingAndGlyphs" transform="rotate(-45 352.05 436.90)" fill="#111111" stroke="#1c1c1c" stroke-width="0.15">pt CD4</text>
<line x1="365.90" y1="422.50" x2="365.90" y2="427.30" stroke="#111111" stroke-width="1.7"/>
<text x="370.50" y="436.90" font-family="Liberation Sans" font-size="9.7" text-anchor="end" textLength="31.8" lengthAdjust="spacingAndGlyphs" transform="rotate(-45 370.50 436.90)" fill="#111111" stroke="#1c1c1c" stroke-width="0.15">NC CD8</text>
<line x1="384.35" y1="422.50" x2="384.35" y2="427.30" stroke="#111111" stroke-width="1.7"/>
<text x="388.95" y="436.90" font-family="Liberation Sans" font-size="9.7" text-anchor="end" textLength="28.9" lengthAdjust="spacingAndGlyphs" transform="rotate(-45 388.95 436.90)" fill="#111111" stroke="#1c1c1c" stroke-width="0.15">pt CD8</text>
<line x1="402.80" y1="422.50" x2="402.80" y2="427.30" stroke="#111111" stroke-width="1.7"/>
<text x="407.40" y="436.90" font-family="Liberation Sans" font-size="9.7" text-anchor="end" textLength="32.3" lengthAdjust="spacingAndGlyphs" transform="rotate(-45 407.40 436.90)" fill="#111111" stroke="#1c1c1c" stroke-width="0.15">NC LMP</text>
<line x1="421.25" y1="422.50" x2="421.25" y2="427.30" stroke="#111111" stroke-width="1.7"/>
<text x="425.85" y="436.90" font-family="Liberation Sans" font-size="9.7" text-anchor="end" textLength="29.4" lengthAdjust="spacingAndGlyphs" transform="rotate(-45 425.85 436.90)" fill="#111111" stroke="#1c1c1c" stroke-width="0.15">pt LMP</text>
<line x1="439.70" y1="422.50" x2="439.70" y2="427.30" stroke="#111111" stroke-width="1.7"/>
<text x="444.30" y="436.90" font-family="Liberation Sans" font-size="9.7" text-anchor="end" textLength="36.6" lengthAdjust="spacingAndGlyphs" transform="rotate(-45 444.30 436.90)" fill="#111111" stroke="#1c1c1c" stroke-width="0.15">NC BRLF</text>
<line x1="458.15" y1="422.50" x2="458.15" y2="427.30" stroke="#111111" stroke-width="1.7"/>
<text x="462.75" y="436.90" font-family="Liberation Sans" font-size="9.7" text-anchor="end" textLength="34.1" lengthAdjust="spacingAndGlyphs" transform="rotate(-45 462.75 436.90)" fill="#111111" stroke="#1c1c1c" stroke-width="0.15">pt BRLF</text>
<line x1="476.60" y1="422.50" x2="476.60" y2="427.30" stroke="#111111" stroke-width="1.7"/>
<text x="481.20" y="436.90" font-family="Liberation Sans" font-size="9.7" text-anchor="end" textLength="26.6" lengthAdjust="spacingAndGlyphs" transform="rotate(-45 481.20 436.90)" fill="#111111" stroke="#1c1c1c" stroke-width="0.15">NC Flu</text>
<line x1="495.05" y1="422.50" x2="495.05" y2="427.30" stroke="#111111" stroke-width="1.7"/>
<text x="499.65" y="436.90" font-family="Liberation Sans" font-size="9.7" text-anchor="end" textLength="23.2" lengthAdjust="spacingAndGlyphs" transform="rotate(-45 499.65 436.90)" fill="#111111" stroke="#1c1c1c" stroke-width="0.15">pt Flu</text>
<polyline points="402.5,327.5 402.5,323.5 421.3,323.5 421.3,327.5" fill="none" stroke="#111111" stroke-width="1.3"/>
<text x="412.20" y="318.80" font-family="Liberation Serif" font-size="8.4" text-anchor="middle" textLength="28.6" lengthAdjust="spacingAndGlyphs" fill="#1a1a1a" stroke="#1a1a1a" stroke-width="0.12">p=0.038</text>
<line x1="328.80" y1="401.50" x2="328.80" y2="411.50" stroke="#111111" stroke-width="1.3"/>
<line x1="322.50" y1="406.50" x2="335.10" y2="406.50" stroke="#111111" stroke-width="1.3"/>
<line x1="325.50" y1="401.50" x2="332.10" y2="401.50" stroke="#111111" stroke-width="1.3"/>
<line x1="325.50" y1="411.50" x2="332.10" y2="411.50" stroke="#111111" stroke-width="1.3"/>
<line x1="347.50" y1="393.10" x2="347.50" y2="400.50" stroke="#111111" stroke-width="1.3"/>
<line x1="341.20" y1="397.70" x2="353.80" y2="397.70" stroke="#111111" stroke-width="1.3"/>
<line x1="344.20" y1="393.10" x2="350.80" y2="393.10" stroke="#111111" stroke-width="1.3"/>
<line x1="344.20" y1="400.50" x2="350.80" y2="400.50" stroke="#111111" stroke-width="1.3"/>
<line x1="366.00" y1="395.10" x2="366.00" y2="407.70" stroke="#111111" stroke-width="1.3"/>
<line x1="359.70" y1="401.10" x2="372.30" y2="401.10" stroke="#111111" stroke-width="1.3"/>
<line x1="362.70" y1="395.10" x2="369.30" y2="395.10" stroke="#111111" stroke-width="1.3"/>
<line x1="362.70" y1="407.70" x2="369.30" y2="407.70" stroke="#111111" stroke-width="1.3"/>
<line x1="384.50" y1="387.40" x2="384.50" y2="396.00" stroke="#111111" stroke-width="1.3"/>
<line x1="378.20" y1="391.50" x2="390.80" y2="391.50" stroke="#111111" stroke-width="1.3"/>
<line x1="381.20" y1="387.40" x2="387.80" y2="387.40" stroke="#111111" stroke-width="1.3"/>
<line x1="381.20" y1="396.00" x2="387.80" y2="396.00" stroke="#111111" stroke-width="1.3"/>
<line x1="402.90" y1="337.00" x2="402.90" y2="340.00" stroke="#111111" stroke-width="1.3"/>
<line x1="396.60" y1="338.50" x2="409.20" y2="338.50" stroke="#111111" stroke-width="1.3"/>
<line x1="399.60" y1="337.00" x2="406.20" y2="337.00" stroke="#111111" stroke-width="1.3"/>
<line x1="399.60" y1="340.00" x2="406.20" y2="340.00" stroke="#111111" stroke-width="1.3"/>
<line x1="421.20" y1="369.90" x2="421.20" y2="385.50" stroke="#111111" stroke-width="1.3"/>
<line x1="414.90" y1="378.00" x2="427.50" y2="378.00" stroke="#111111" stroke-width="1.3"/>
<line x1="417.90" y1="369.90" x2="424.50" y2="369.90" stroke="#111111" stroke-width="1.3"/>
<line x1="417.90" y1="385.50" x2="424.50" y2="385.50" stroke="#111111" stroke-width="1.3"/>
<line x1="439.50" y1="310.50" x2="439.50" y2="332.80" stroke="#111111" stroke-width="1.3"/>
<line x1="433.20" y1="322.00" x2="445.80" y2="322.00" stroke="#111111" stroke-width="1.3"/>
<line x1="436.20" y1="310.50" x2="442.80" y2="310.50" stroke="#111111" stroke-width="1.3"/>
<line x1="436.20" y1="332.80" x2="442.80" y2="332.80" stroke="#111111" stroke-width="1.3"/>
<line x1="451.70" y1="333.70" x2="464.30" y2="333.70" stroke="#111111" stroke-width="1.3"/>
<line x1="454.70" y1="325.20" x2="461.30" y2="325.20" stroke="#111111" stroke-width="1.3"/>
<line x1="458.00" y1="345.60" x2="458.00" y2="423.00" stroke="#111111" stroke-width="1.3"/>
<line x1="476.10" y1="325.20" x2="476.10" y2="336.50" stroke="#111111" stroke-width="1.3"/>
<line x1="469.80" y1="331.10" x2="482.40" y2="331.10" stroke="#111111" stroke-width="1.3"/>
<line x1="472.80" y1="325.20" x2="479.40" y2="325.20" stroke="#111111" stroke-width="1.3"/>
<line x1="472.80" y1="336.50" x2="479.40" y2="336.50" stroke="#111111" stroke-width="1.3"/>
<line x1="494.90" y1="312.40" x2="494.90" y2="330.10" stroke="#111111" stroke-width="1.3"/>
<line x1="488.60" y1="321.10" x2="501.20" y2="321.10" stroke="#111111" stroke-width="1.3"/>
<line x1="491.60" y1="312.40" x2="498.20" y2="312.40" stroke="#111111" stroke-width="1.3"/>
<line x1="491.60" y1="330.10" x2="498.20" y2="330.10" stroke="#111111" stroke-width="1.3"/>
<circle cx="328.8" cy="393.1" r="2.8" fill="#a02439"/>
<circle cx="328.8" cy="400.8" r="2.8" fill="#a02439"/>
<circle cx="326.5" cy="410.8" r="2.8" fill="#a02439"/>
<circle cx="331.1" cy="411.5" r="2.8" fill="#a02439"/>
<circle cx="328.8" cy="416.2" r="2.8" fill="#a02439"/>
<rect x="344.80" y="378.00" width="5.4" height="5.4" fill="#a02439"/>
<rect x="342.00" y="395.50" width="5.4" height="5.4" fill="#a02439"/>
<rect x="347.60" y="395.80" width="5.4" height="5.4" fill="#a02439"/>
<rect x="344.80" y="397.30" width="5.4" height="5.4" fill="#a02439"/>
<rect x="344.80" y="407.30" width="5.4" height="5.4" fill="#a02439"/>
<polygon points="365.90,373.85 368.80,379.75 363.00,379.75" fill="#a02439"/>
<polygon points="366.00,398.35 368.90,404.25 363.10,404.25" fill="#a02439"/>
<polygon points="363.50,404.35 366.40,410.25 360.60,410.25" fill="#a02439"/>
<polygon points="367.90,407.85 370.80,413.75 365.00,413.75" fill="#a02439"/>
<polygon points="366.00,406.85 368.90,412.75 363.10,412.75" fill="#a02439"/>
<polygon points="384.40,377.95 387.30,372.05 381.50,372.05" fill="#a02439"/>
<polygon points="381.10,397.75 384.00,391.85 378.20,391.85" fill="#a02439"/>
<polygon points="387.50,395.05 390.40,389.15 384.60,389.15" fill="#a02439"/>
<polygon points="383.30,402.05 386.20,396.15 380.40,396.15" fill="#a02439"/>
<polygon points="398.80,332.65 401.95,335.80 398.80,338.95 395.65,335.80" fill="#a02439"/>
<polygon points="402.80,336.25 405.95,339.40 402.80,342.55 399.65,339.40" fill="#a02439"/>
<polygon points="406.80,334.65 409.95,337.80 406.80,340.95 403.65,337.80" fill="#a02439"/>
<polygon points="402.90,419.15 406.05,422.30 402.90,425.45 399.75,422.30" fill="#a02439"/>
<circle cx="421.2" cy="354.6" r="2.65" fill="none" stroke="#2d5189" stroke-width="1.3"/>
<circle cx="421.2" cy="364.2" r="2.65" fill="none" stroke="#2d5189" stroke-width="1.3"/>
<circle cx="421.2" cy="380.1" r="2.65" fill="none" stroke="#2d5189" stroke-width="1.3"/>
<circle cx="421.2" cy="388.7" r="2.65" fill="none" stroke="#2d5189" stroke-width="1.3"/>
<circle cx="421.2" cy="400.4" r="2.65" fill="none" stroke="#2d5189" stroke-width="1.3"/>
<rect x="437.00" y="297.30" width="5.0" height="5.0" fill="none" stroke="#62a548" stroke-width="1.15"/>
<rect x="437.00" y="324.80" width="5.0" height="5.0" fill="none" stroke="#62a548" stroke-width="1.15"/>
<rect x="437.00" y="336.10" width="5.0" height="5.0" fill="none" stroke="#62a548" stroke-width="1.15"/>
<polygon points="458.00,322.60 460.50,327.50 455.50,327.50" fill="none" stroke="#63306e" stroke-width="1.2"/>
<polygon points="458.00,420.60 460.50,425.50 455.50,425.50" fill="none" stroke="#63306e" stroke-width="1.2"/>
<polygon points="473.00,317.20 475.60,312.10 470.40,312.10" fill="none" stroke="#2d5189" stroke-width="1.2"/>
<polygon points="480.00,319.30 482.60,314.20 477.40,314.20" fill="none" stroke="#2d5189" stroke-width="1.2"/>
<polygon points="473.50,343.40 476.10,338.30 470.90,338.30" fill="none" stroke="#2d5189" stroke-width="1.2"/>
<polygon points="478.50,343.40 481.10,338.30 475.90,338.30" fill="none" stroke="#2d5189" stroke-width="1.2"/>
<polygon points="476.00,343.70 478.60,338.60 473.40,338.60" fill="none" stroke="#2d5189" stroke-width="1.2"/>
<polygon points="494.90,289.45 497.85,292.40 494.90,295.35 491.95,292.40" fill="none" stroke="#a21f39" stroke-width="1.35"/>
<polygon points="494.90,306.85 497.85,309.80 494.90,312.75 491.95,309.80" fill="none" stroke="#a21f39" stroke-width="1.35"/>
<polygon points="492.80,328.85 495.75,331.80 492.80,334.75 489.85,331.80" fill="none" stroke="#a21f39" stroke-width="1.35"/>
<polygon points="497.40,332.05 500.35,335.00 497.40,337.95 494.45,335.00" fill="none" stroke="#a21f39" stroke-width="1.35"/>
<polygon points="494.90,335.05 497.85,338.00 494.90,340.95 491.95,338.00" fill="none" stroke="#a21f39" stroke-width="1.35"/>
<text x="11.20" y="506.50" font-family="Liberation Sans" font-size="17.5" fill="#111111">E</text>
<text x="152.50" y="508.30" font-family="Liberation Sans" font-size="12.6" text-anchor="middle" textLength="76.0" lengthAdjust="spacingAndGlyphs" fill="#111111" stroke="#111" stroke-width="0.18">CCR7 homing</text>
<text x="28.20" y="582.00" font-family="Liberation Sans" font-size="13.2" text-anchor="middle" textLength="86.3" lengthAdjust="spacingAndGlyphs" transform="rotate(-90 28.20 582.00)" fill="#111111" stroke="#111" stroke-width="0.18">%CCR7 positive</text>
<line x1="57.00" y1="516.20" x2="57.00" y2="647.60" stroke="#111111" stroke-width="1.7"/>
<line x1="52.00" y1="520.80" x2="57.00" y2="520.80" stroke="#111111" stroke-width="1.7"/>
<text x="47.70" y="524.30" font-family="Liberation Sans" font-size="9.9" text-anchor="end" textLength="14.4" lengthAdjust="spacingAndGlyphs" fill="#111111">100</text>
<line x1="52.00" y1="552.50" x2="57.00" y2="552.50" stroke="#111111" stroke-width="1.7"/>
<text x="47.70" y="556.00" font-family="Liberation Sans" font-size="9.9" text-anchor="end" textLength="9.6" lengthAdjust="spacingAndGlyphs" fill="#111111">75</text>
<line x1="52.00" y1="584.20" x2="57.00" y2="584.20" stroke="#111111" stroke-width="1.7"/>
<text x="47.70" y="587.70" font-family="Liberation Sans" font-size="9.9" text-anchor="end" textLength="9.6" lengthAdjust="spacingAndGlyphs" fill="#111111">50</text>
<line x1="52.00" y1="615.90" x2="57.00" y2="615.90" stroke="#111111" stroke-width="1.7"/>
<text x="47.70" y="619.40" font-family="Liberation Sans" font-size="9.9" text-anchor="end" textLength="9.6" lengthAdjust="spacingAndGlyphs" fill="#111111">25</text>
<line x1="52.00" y1="647.60" x2="57.00" y2="647.60" stroke="#111111" stroke-width="1.7"/>
<text x="47.70" y="651.10" font-family="Liberation Sans" font-size="9.9" text-anchor="end" textLength="4.8" lengthAdjust="spacingAndGlyphs" fill="#111111">0</text>
<line x1="57.00" y1="647.60" x2="247.70" y2="647.60" stroke="#111111" stroke-width="1.7"/>
<line x1="69.00" y1="647.60" x2="69.00" y2="652.40" stroke="#111111" stroke-width="1.7"/>
<text x="73.60" y="662.00" font-family="Liberation Sans" font-size="9.7" text-anchor="end" textLength="31.8" lengthAdjust="spacingAndGlyphs" transform="rotate(-45 73.60 662.00)" fill="#111111" stroke="#1c1c1c" stroke-width="0.15">NC CD4</text>
<line x1="87.40" y1="647.60" x2="87.40" y2="652.40" stroke="#111111" stroke-width="1.7"/>
<text x="92.00" y="662.00" font-family="Liberation Sans" font-size="9.7" text-anchor="end" textLength="28.9" lengthAdjust="spacingAndGlyphs" transform="rotate(-45 92.00 662.00)" fill="#111111" stroke="#1c1c1c" stroke-width="0.15">pt CD4</text>
<line x1="105.80" y1="647.60" x2="105.80" y2="652.40" stroke="#111111" stroke-width="1.7"/>
<text x="110.40" y="662.00" font-family="Liberation Sans" font-size="9.7" text-anchor="end" textLength="31.8" lengthAdjust="spacingAndGlyphs" transform="rotate(-45 110.40 662.00)" fill="#111111" stroke="#1c1c1c" stroke-width="0.15">NC CD8</text>
<line x1="124.20" y1="647.60" x2="124.20" y2="652.40" stroke="#111111" stroke-width="1.7"/>
<text x="128.80" y="662.00" font-family="Liberation Sans" font-size="9.7" text-anchor="end" textLength="28.9" lengthAdjust="spacingAndGlyphs" transform="rotate(-45 128.80 662.00)" fill="#111111" stroke="#1c1c1c" stroke-width="0.15">pt CD8</text>
<line x1="142.60" y1="647.60" x2="142.60" y2="652.40" stroke="#111111" stroke-width="1.7"/>
<text x="147.20" y="662.00" font-family="Liberation Sans" font-size="9.7" text-anchor="end" textLength="32.3" lengthAdjust="spacingAndGlyphs" transform="rotate(-45 147.20 662.00)" fill="#111111" stroke="#1c1c1c" stroke-width="0.15">NC LMP</text>
<line x1="161.00" y1="647.60" x2="161.00" y2="652.40" stroke="#111111" stroke-width="1.7"/>
<text x="165.60" y="662.00" font-family="Liberation Sans" font-size="9.7" text-anchor="end" textLength="29.4" lengthAdjust="spacingAndGlyphs" transform="rotate(-45 165.60 662.00)" fill="#111111" stroke="#1c1c1c" stroke-width="0.15">pt LMP</text>
<line x1="179.40" y1="647.60" x2="179.40" y2="652.40" stroke="#111111" stroke-width="1.7"/>
<text x="184.00" y="662.00" font-family="Liberation Sans" font-size="9.7" text-anchor="end" textLength="36.6" lengthAdjust="spacingAndGlyphs" transform="rotate(-45 184.00 662.00)" fill="#111111" stroke="#1c1c1c" stroke-width="0.15">NC BRLF</text>
<line x1="197.80" y1="647.60" x2="197.80" y2="652.40" stroke="#111111" stroke-width="1.7"/>
<text x="202.40" y="662.00" font-family="Liberation Sans" font-size="9.7" text-anchor="end" textLength="34.1" lengthAdjust="spacingAndGlyphs" transform="rotate(-45 202.40 662.00)" fill="#111111" stroke="#1c1c1c" stroke-width="0.15">pt BRLF</text>
<line x1="216.20" y1="647.60" x2="216.20" y2="652.40" stroke="#111111" stroke-width="1.7"/>
<text x="220.80" y="662.00" font-family="Liberation Sans" font-size="9.7" text-anchor="end" textLength="26.6" lengthAdjust="spacingAndGlyphs" transform="rotate(-45 220.80 662.00)" fill="#111111" stroke="#1c1c1c" stroke-width="0.15">NC Flu</text>
<line x1="234.60" y1="647.60" x2="234.60" y2="652.40" stroke="#111111" stroke-width="1.7"/>
<text x="239.20" y="662.00" font-family="Liberation Sans" font-size="9.7" text-anchor="end" textLength="23.2" lengthAdjust="spacingAndGlyphs" transform="rotate(-45 239.20 662.00)" fill="#111111" stroke="#1c1c1c" stroke-width="0.15">pt Flu</text>
<polyline points="142.7,536.6999999999999 142.7,532.3 161.2,532.3 161.2,536.6999999999999" fill="none" stroke="#111111" stroke-width="1.3"/>
<text x="152.00" y="527.70" font-family="Liberation Serif" font-size="8.4" text-anchor="middle" textLength="27.7" lengthAdjust="spacingAndGlyphs" fill="#1a1a1a" stroke="#1a1a1a" stroke-width="0.12">p=0.002</text>
<line x1="68.80" y1="551.40" x2="68.80" y2="576.70" stroke="#111111" stroke-width="1.3"/>
<line x1="62.50" y1="564.10" x2="75.10" y2="564.10" stroke="#111111" stroke-width="1.3"/>
<line x1="65.50" y1="551.40" x2="72.10" y2="551.40" stroke="#111111" stroke-width="1.3"/>
<line x1="65.50" y1="576.70" x2="72.10" y2="576.70" stroke="#111111" stroke-width="1.3"/>
<line x1="87.30" y1="550.80" x2="87.30" y2="568.30" stroke="#111111" stroke-width="1.3"/>
<line x1="81.00" y1="559.80" x2="93.60" y2="559.80" stroke="#111111" stroke-width="1.3"/>
<line x1="84.00" y1="550.80" x2="90.60" y2="550.80" stroke="#111111" stroke-width="1.3"/>
<line x1="84.00" y1="568.30" x2="90.60" y2="568.30" stroke="#111111" stroke-width="1.3"/>
<line x1="106.00" y1="580.60" x2="106.00" y2="617.80" stroke="#111111" stroke-width="1.3"/>
<line x1="99.70" y1="599.10" x2="112.30" y2="599.10" stroke="#111111" stroke-width="1.3"/>
<line x1="102.70" y1="580.60" x2="109.30" y2="580.60" stroke="#111111" stroke-width="1.3"/>
<line x1="102.70" y1="617.80" x2="109.30" y2="617.80" stroke="#111111" stroke-width="1.3"/>
<line x1="124.50" y1="579.20" x2="124.50" y2="609.10" stroke="#111111" stroke-width="1.3"/>
<line x1="118.20" y1="594.20" x2="130.80" y2="594.20" stroke="#111111" stroke-width="1.3"/>
<line x1="121.20" y1="579.20" x2="127.80" y2="579.20" stroke="#111111" stroke-width="1.3"/>
<line x1="121.20" y1="609.10" x2="127.80" y2="609.10" stroke="#111111" stroke-width="1.3"/>
<line x1="142.70" y1="563.90" x2="142.70" y2="584.20" stroke="#111111" stroke-width="1.3"/>
<line x1="136.40" y1="574.30" x2="149.00" y2="574.30" stroke="#111111" stroke-width="1.3"/>
<line x1="139.40" y1="563.90" x2="146.00" y2="563.90" stroke="#111111" stroke-width="1.3"/>
<line x1="139.40" y1="584.20" x2="146.00" y2="584.20" stroke="#111111" stroke-width="1.3"/>
<line x1="161.20" y1="613.50" x2="161.20" y2="625.80" stroke="#111111" stroke-width="1.3"/>
<line x1="154.90" y1="620.50" x2="167.50" y2="620.50" stroke="#111111" stroke-width="1.3"/>
<line x1="157.90" y1="613.50" x2="164.50" y2="613.50" stroke="#111111" stroke-width="1.3"/>
<line x1="157.90" y1="625.80" x2="164.50" y2="625.80" stroke="#111111" stroke-width="1.3"/>
<line x1="179.60" y1="520.80" x2="179.60" y2="522.00" stroke="#111111" stroke-width="1.3"/>
<line x1="173.30" y1="521.40" x2="185.90" y2="521.40" stroke="#111111" stroke-width="1.3"/>
<line x1="176.30" y1="520.80" x2="182.90" y2="520.80" stroke="#111111" stroke-width="1.3"/>
<line x1="176.30" y1="522.00" x2="182.90" y2="522.00" stroke="#111111" stroke-width="1.3"/>
<line x1="198.10" y1="521.50" x2="198.10" y2="522.50" stroke="#111111" stroke-width="1.3"/>
<line x1="191.80" y1="522.00" x2="204.40" y2="522.00" stroke="#111111" stroke-width="1.3"/>
<line x1="194.80" y1="521.50" x2="201.40" y2="521.50" stroke="#111111" stroke-width="1.3"/>
<line x1="194.80" y1="522.50" x2="201.40" y2="522.50" stroke="#111111" stroke-width="1.3"/>
<line x1="216.50" y1="584.20" x2="216.50" y2="598.00" stroke="#111111" stroke-width="1.3"/>
<line x1="210.20" y1="591.20" x2="222.80" y2="591.20" stroke="#111111" stroke-width="1.3"/>
<line x1="213.20" y1="584.20" x2="219.80" y2="584.20" stroke="#111111" stroke-width="1.3"/>
<line x1="213.20" y1="598.00" x2="219.80" y2="598.00" stroke="#111111" stroke-width="1.3"/>
<line x1="235.00" y1="574.30" x2="235.00" y2="602.70" stroke="#111111" stroke-width="1.3"/>
<line x1="228.70" y1="588.90" x2="241.30" y2="588.90" stroke="#111111" stroke-width="1.3"/>
<line x1="231.70" y1="574.30" x2="238.30" y2="574.30" stroke="#111111" stroke-width="1.3"/>
<line x1="231.70" y1="602.70" x2="238.30" y2="602.70" stroke="#111111" stroke-width="1.3"/>
<circle cx="68.8" cy="537.5" r="2.8" fill="#a02439"/>
<circle cx="72.2" cy="545.2" r="2.8" fill="#a02439"/>
<circle cx="65.8" cy="550.4" r="2.8" fill="#a02439"/>
<circle cx="68.8" cy="589" r="2.8" fill="#a02439"/>
<circle cx="68.8" cy="598.1" r="2.8" fill="#a02439"/>
<rect x="81.40" y="534.80" width="5.4" height="5.4" fill="#a02439"/>
<rect x="88.00" y="540.80" width="5.4" height="5.4" fill="#a02439"/>
<rect x="84.60" y="558.10" width="5.4" height="5.4" fill="#a02439"/>
<rect x="84.60" y="571.00" width="5.4" height="5.4" fill="#a02439"/>
<rect x="84.60" y="580.90" width="5.4" height="5.4" fill="#a02439"/>
<polygon points="106.00,550.25 108.90,556.15 103.10,556.15" fill="#a02439"/>
<polygon points="106.00,563.55 108.90,569.45 103.10,569.45" fill="#a02439"/>
<polygon points="106.00,590.05 108.90,595.95 103.10,595.95" fill="#a02439"/>
<polygon points="102.60,641.75 105.50,647.65 99.70,647.65" fill="#a02439"/>
<polygon points="109.20,636.15 112.10,642.05 106.30,642.05" fill="#a02439"/>
<polygon points="124.50,559.95 127.40,554.05 121.60,554.05" fill="#a02439"/>
<polygon points="124.50,571.85 127.40,565.95 121.60,565.95" fill="#a02439"/>
<polygon points="124.50,592.35 127.40,586.45 121.60,586.45" fill="#a02439"/>
<polygon points="124.50,620.15 127.40,614.25 121.60,614.25" fill="#a02439"/>
<polygon points="124.50,640.85 127.40,634.95 121.60,634.95" fill="#a02439"/>
<polygon points="142.70,538.85 145.85,542.00 142.70,545.15 139.55,542.00" fill="#a02439"/>
<polygon points="142.70,563.75 145.85,566.90 142.70,570.05 139.55,566.90" fill="#a02439"/>
<polygon points="139.20,573.05 142.35,576.20 139.20,579.35 136.05,576.20" fill="#a02439"/>
<polygon points="145.70,577.65 148.85,580.80 145.70,583.95 142.55,580.80" fill="#a02439"/>
<polygon points="142.70,601.15 145.85,604.30 142.70,607.45 139.55,604.30" fill="#a02439"/>
<circle cx="161.2" cy="602.2" r="2.65" fill="none" stroke="#2d5189" stroke-width="1.3"/>
<circle cx="164.2" cy="614.7" r="2.65" fill="none" stroke="#2d5189" stroke-width="1.3"/>
<circle cx="158.8" cy="618.9" r="2.65" fill="none" stroke="#2d5189" stroke-width="1.3"/>
<circle cx="160" cy="621.2" r="2.65" fill="none" stroke="#2d5189" stroke-width="1.3"/>
<circle cx="161.2" cy="641.2" r="2.65" fill="none" stroke="#2d5189" stroke-width="1.3"/>
<rect x="174.70" y="518.10" width="5.0" height="5.0" fill="none" stroke="#62a548" stroke-width="1.15"/>
<rect x="179.90" y="518.10" width="5.0" height="5.0" fill="none" stroke="#62a548" stroke-width="1.15"/>
<rect x="177.30" y="519.30" width="5.0" height="5.0" fill="none" stroke="#62a548" stroke-width="1.15"/>
<polygon points="195.40,518.40 197.90,523.30 192.90,523.30" fill="none" stroke="#63306e" stroke-width="1.2"/>
<polygon points="201.00,518.40 203.50,523.30 198.50,523.30" fill="none" stroke="#63306e" stroke-width="1.2"/>
<polygon points="216.50,570.80 219.10,565.70 213.90,565.70" fill="none" stroke="#2d5189" stroke-width="1.2"/>
<polygon points="213.10,590.40 215.70,585.30 210.50,585.30" fill="none" stroke="#2d5189" stroke-width="1.2"/>
<polygon points="220.00,589.20 222.60,584.10 217.40,584.10" fill="none" stroke="#2d5189" stroke-width="1.2"/>
<polygon points="216.50,603.10 219.10,598.00 213.90,598.00" fill="none" stroke="#2d5189" stroke-width="1.2"/>
<polygon points="216.50,613.00 219.10,607.90 213.90,607.90" fill="none" stroke="#2d5189" stroke-width="1.2"/>
<polygon points="235.00,537.45 237.95,540.40 235.00,543.35 232.05,540.40" fill="none" stroke="#a21f39" stroke-width="1.35"/>
<polygon points="231.50,581.25 234.45,584.20 231.50,587.15 228.55,584.20" fill="none" stroke="#a21f39" stroke-width="1.35"/>
<polygon points="238.50,578.95 241.45,581.90 238.50,584.85 235.55,581.90" fill="none" stroke="#a21f39" stroke-width="1.35"/>
<polygon points="235.00,610.15 237.95,613.10 235.00,616.05 232.05,613.10" fill="none" stroke="#a21f39" stroke-width="1.35"/>
<polygon points="235.00,622.35 237.95,625.30 235.00,628.25 232.05,625.30" fill="none" stroke="#a21f39" stroke-width="1.35"/>
<text x="271.20" y="506.50" font-family="Liberation Sans" font-size="17.5" fill="#111111">F</text>
<text x="412.85" y="507.30" font-family="Liberation Sans" font-size="12.6" text-anchor="middle" textLength="97.5" lengthAdjust="spacingAndGlyphs" fill="#111111" stroke="#111" stroke-width="0.18">CD57 senescence</text>
<text x="288.00" y="581.80" font-family="Liberation Sans" font-size="13.2" text-anchor="middle" textLength="87.7" lengthAdjust="spacingAndGlyphs" transform="rotate(-90 288.00 581.80)" fill="#111111" stroke="#111" stroke-width="0.18">%CD57 positive</text>
<line x1="316.90" y1="516.20" x2="316.90" y2="647.60" stroke="#111111" stroke-width="1.7"/>
<line x1="311.90" y1="520.80" x2="316.90" y2="520.80" stroke="#111111" stroke-width="1.7"/>
<text x="307.60" y="524.30" font-family="Liberation Sans" font-size="9.9" text-anchor="end" textLength="9.6" lengthAdjust="spacingAndGlyphs" fill="#111111">75</text>
<line x1="311.90" y1="563.10" x2="316.90" y2="563.10" stroke="#111111" stroke-width="1.7"/>
<text x="307.60" y="566.60" font-family="Liberation Sans" font-size="9.9" text-anchor="end" textLength="9.6" lengthAdjust="spacingAndGlyphs" fill="#111111">50</text>
<line x1="311.90" y1="605.40" x2="316.90" y2="605.40" stroke="#111111" stroke-width="1.7"/>
<text x="307.60" y="608.90" font-family="Liberation Sans" font-size="9.9" text-anchor="end" textLength="9.6" lengthAdjust="spacingAndGlyphs" fill="#111111">25</text>
<line x1="311.90" y1="647.60" x2="316.90" y2="647.60" stroke="#111111" stroke-width="1.7"/>
<text x="307.60" y="651.10" font-family="Liberation Sans" font-size="9.9" text-anchor="end" textLength="4.8" lengthAdjust="spacingAndGlyphs" fill="#111111">0</text>
<line x1="316.90" y1="647.60" x2="508.20" y2="647.60" stroke="#111111" stroke-width="1.7"/>
<line x1="328.80" y1="647.60" x2="328.80" y2="652.40" stroke="#111111" stroke-width="1.7"/>
<text x="333.40" y="662.00" font-family="Liberation Sans" font-size="9.7" text-anchor="end" textLength="31.8" lengthAdjust="spacingAndGlyphs" transform="rotate(-45 333.40 662.00)" fill="#111111" stroke="#1c1c1c" stroke-width="0.15">NC CD4</text>
<line x1="347.25" y1="647.60" x2="347.25" y2="652.40" stroke="#111111" stroke-width="1.7"/>
<text x="351.85" y="662.00" font-family="Liberation Sans" font-size="9.7" text-anchor="end" textLength="28.9" lengthAdjust="spacingAndGlyphs" transform="rotate(-45 351.85 662.00)" fill="#111111" stroke="#1c1c1c" stroke-width="0.15">pt CD4</text>
<line x1="365.70" y1="647.60" x2="365.70" y2="652.40" stroke="#111111" stroke-width="1.7"/>
<text x="370.30" y="662.00" font-family="Liberation Sans" font-size="9.7" text-anchor="end" textLength="31.8" lengthAdjust="spacingAndGlyphs" transform="rotate(-45 370.30 662.00)" fill="#111111" stroke="#1c1c1c" stroke-width="0.15">NC CD8</text>
<line x1="384.15" y1="647.60" x2="384.15" y2="652.40" stroke="#111111" stroke-width="1.7"/>
<text x="388.75" y="662.00" font-family="Liberation Sans" font-size="9.7" text-anchor="end" textLength="28.9" lengthAdjust="spacingAndGlyphs" transform="rotate(-45 388.75 662.00)" fill="#111111" stroke="#1c1c1c" stroke-width="0.15">pt CD8</text>
<line x1="402.60" y1="647.60" x2="402.60" y2="652.40" stroke="#111111" stroke-width="1.7"/>
<text x="407.20" y="662.00" font-family="Liberation Sans" font-size="9.7" text-anchor="end" textLength="32.3" lengthAdjust="spacingAndGlyphs" transform="rotate(-45 407.20 662.00)" fill="#111111" stroke="#1c1c1c" stroke-width="0.15">NC LMP</text>
<line x1="421.05" y1="647.60" x2="421.05" y2="652.40" stroke="#111111" stroke-width="1.7"/>
<text x="425.65" y="662.00" font-family="Liberation Sans" font-size="9.7" text-anchor="end" textLength="29.4" lengthAdjust="spacingAndGlyphs" transform="rotate(-45 425.65 662.00)" fill="#111111" stroke="#1c1c1c" stroke-width="0.15">pt LMP</text>
<line x1="439.50" y1="647.60" x2="439.50" y2="652.40" stroke="#111111" stroke-width="1.7"/>
<text x="444.10" y="662.00" font-family="Liberation Sans" font-size="9.7" text-anchor="end" textLength="36.6" lengthAdjust="spacingAndGlyphs" transform="rotate(-45 444.10 662.00)" fill="#111111" stroke="#1c1c1c" stroke-width="0.15">NC BRLF</text>
<line x1="457.95" y1="647.60" x2="457.95" y2="652.40" stroke="#111111" stroke-width="1.7"/>
<text x="462.55" y="662.00" font-family="Liberation Sans" font-size="9.7" text-anchor="end" textLength="34.1" lengthAdjust="spacingAndGlyphs" transform="rotate(-45 462.55 662.00)" fill="#111111" stroke="#1c1c1c" stroke-width="0.15">pt BRLF</text>
<line x1="476.40" y1="647.60" x2="476.40" y2="652.40" stroke="#111111" stroke-width="1.7"/>
<text x="481.00" y="662.00" font-family="Liberation Sans" font-size="9.7" text-anchor="end" textLength="26.6" lengthAdjust="spacingAndGlyphs" transform="rotate(-45 481.00 662.00)" fill="#111111" stroke="#1c1c1c" stroke-width="0.15">NC Flu</text>
<line x1="494.85" y1="647.60" x2="494.85" y2="652.40" stroke="#111111" stroke-width="1.7"/>
<text x="499.45" y="662.00" font-family="Liberation Sans" font-size="9.7" text-anchor="end" textLength="23.2" lengthAdjust="spacingAndGlyphs" transform="rotate(-45 499.45 662.00)" fill="#111111" stroke="#1c1c1c" stroke-width="0.15">pt Flu</text>
<line x1="328.80" y1="638.50" x2="328.80" y2="644.00" stroke="#111111" stroke-width="1.3"/>
<line x1="322.50" y1="641.30" x2="335.10" y2="641.30" stroke="#111111" stroke-width="1.3"/>
<line x1="325.50" y1="638.50" x2="332.10" y2="638.50" stroke="#111111" stroke-width="1.3"/>
<line x1="325.50" y1="644.00" x2="332.10" y2="644.00" stroke="#111111" stroke-width="1.3"/>
<line x1="347.10" y1="644.00" x2="347.10" y2="646.00" stroke="#111111" stroke-width="1.3"/>
<line x1="340.80" y1="645.00" x2="353.40" y2="645.00" stroke="#111111" stroke-width="1.3"/>
<line x1="343.80" y1="644.00" x2="350.40" y2="644.00" stroke="#111111" stroke-width="1.3"/>
<line x1="343.80" y1="646.00" x2="350.40" y2="646.00" stroke="#111111" stroke-width="1.3"/>
<line x1="366.00" y1="591.90" x2="366.00" y2="620.80" stroke="#111111" stroke-width="1.3"/>
<line x1="359.70" y1="606.30" x2="372.30" y2="606.30" stroke="#111111" stroke-width="1.3"/>
<line x1="362.70" y1="591.90" x2="369.30" y2="591.90" stroke="#111111" stroke-width="1.3"/>
<line x1="362.70" y1="620.80" x2="369.30" y2="620.80" stroke="#111111" stroke-width="1.3"/>
<line x1="384.20" y1="592.50" x2="384.20" y2="627.50" stroke="#111111" stroke-width="1.3"/>
<line x1="377.90" y1="609.80" x2="390.50" y2="609.80" stroke="#111111" stroke-width="1.3"/>
<line x1="380.90" y1="592.50" x2="387.50" y2="592.50" stroke="#111111" stroke-width="1.3"/>
<line x1="380.90" y1="627.50" x2="387.50" y2="627.50" stroke="#111111" stroke-width="1.3"/>
<line x1="402.70" y1="621.10" x2="402.70" y2="635.40" stroke="#111111" stroke-width="1.3"/>
<line x1="396.40" y1="628.00" x2="409.00" y2="628.00" stroke="#111111" stroke-width="1.3"/>
<line x1="399.40" y1="621.10" x2="406.00" y2="621.10" stroke="#111111" stroke-width="1.3"/>
<line x1="399.40" y1="635.40" x2="406.00" y2="635.40" stroke="#111111" stroke-width="1.3"/>
<line x1="421.20" y1="608.40" x2="421.20" y2="629.60" stroke="#111111" stroke-width="1.3"/>
<line x1="414.90" y1="618.80" x2="427.50" y2="618.80" stroke="#111111" stroke-width="1.3"/>
<line x1="417.90" y1="608.40" x2="424.50" y2="608.40" stroke="#111111" stroke-width="1.3"/>
<line x1="417.90" y1="629.60" x2="424.50" y2="629.60" stroke="#111111" stroke-width="1.3"/>
<line x1="439.20" y1="637.00" x2="439.20" y2="639.50" stroke="#111111" stroke-width="1.3"/>
<line x1="432.90" y1="638.20" x2="445.50" y2="638.20" stroke="#111111" stroke-width="1.3"/>
<line x1="435.90" y1="637.00" x2="442.50" y2="637.00" stroke="#111111" stroke-width="1.3"/>
<line x1="435.90" y1="639.50" x2="442.50" y2="639.50" stroke="#111111" stroke-width="1.3"/>
<line x1="458.10" y1="569.20" x2="458.10" y2="628.00" stroke="#111111" stroke-width="1.3"/>
<line x1="451.80" y1="598.00" x2="464.40" y2="598.00" stroke="#111111" stroke-width="1.3"/>
<line x1="454.80" y1="569.20" x2="461.40" y2="569.20" stroke="#111111" stroke-width="1.3"/>
<line x1="454.80" y1="628.00" x2="461.40" y2="628.00" stroke="#111111" stroke-width="1.3"/>
<line x1="476.50" y1="617.60" x2="476.50" y2="633.10" stroke="#111111" stroke-width="1.3"/>
<line x1="470.20" y1="625.70" x2="482.80" y2="625.70" stroke="#111111" stroke-width="1.3"/>
<line x1="473.20" y1="617.60" x2="479.80" y2="617.60" stroke="#111111" stroke-width="1.3"/>
<line x1="473.20" y1="633.10" x2="479.80" y2="633.10" stroke="#111111" stroke-width="1.3"/>
<line x1="495.00" y1="575.40" x2="495.00" y2="611.90" stroke="#111111" stroke-width="1.3"/>
<line x1="488.70" y1="593.40" x2="501.30" y2="593.40" stroke="#111111" stroke-width="1.3"/>
<line x1="491.70" y1="575.40" x2="498.30" y2="575.40" stroke="#111111" stroke-width="1.3"/>
<line x1="491.70" y1="611.90" x2="498.30" y2="611.90" stroke="#111111" stroke-width="1.3"/>
<circle cx="325.6" cy="634.6" r="2.8" fill="#a02439"/>
<circle cx="332.3" cy="635.6" r="2.8" fill="#a02439"/>
<circle cx="326" cy="643.5" r="2.8" fill="#a02439"/>
<circle cx="329.8" cy="644.8" r="2.8" fill="#a02439"/>
<circle cx="330.8" cy="646.7" r="2.8" fill="#a02439"/>
<rect x="341.30" y="642.30" width="5.4" height="5.4" fill="#a02439"/>
<rect x="344.30" y="643.30" width="5.4" height="5.4" fill="#a02439"/>
<rect x="347.30" y="643.80" width="5.4" height="5.4" fill="#a02439"/>
<rect x="342.80" y="643.80" width="5.4" height="5.4" fill="#a02439"/>
<rect x="345.80" y="642.30" width="5.4" height="5.4" fill="#a02439"/>
<polygon points="362.50,569.15 365.40,575.05 359.60,575.05" fill="#a02439"/>
<polygon points="368.80,571.05 371.70,576.95 365.90,576.95" fill="#a02439"/>
<polygon points="366.00,611.85 368.90,617.75 363.10,617.75" fill="#a02439"/>
<polygon points="366.00,628.75 368.90,634.65 363.10,634.65" fill="#a02439"/>
<polygon points="366.00,637.25 368.90,643.15 363.10,643.15" fill="#a02439"/>
<polygon points="384.20,545.05 387.10,539.15 381.30,539.15" fill="#a02439"/>
<polygon points="381.70,626.85 384.60,620.95 378.80,620.95" fill="#a02439"/>
<polygon points="386.50,626.85 389.40,620.95 383.60,620.95" fill="#a02439"/>
<polygon points="384.20,628.15 387.10,622.25 381.30,622.25" fill="#a02439"/>
<polygon points="384.20,636.95 387.10,631.05 381.30,631.05" fill="#a02439"/>
<polygon points="402.70,602.25 405.85,605.40 402.70,608.55 399.55,605.40" fill="#a02439"/>
<polygon points="402.70,620.05 405.85,623.20 402.70,626.35 399.55,623.20" fill="#a02439"/>
<polygon points="399.70,627.65 402.85,630.80 399.70,633.95 396.55,630.80" fill="#a02439"/>
<polygon points="406.20,632.25 409.35,635.40 406.20,638.55 403.05,635.40" fill="#a02439"/>
<polygon points="402.70,644.25 405.85,647.40 402.70,650.55 399.55,647.40" fill="#a02439"/>
<circle cx="418.2" cy="596.6" r="2.65" fill="none" stroke="#2d5189" stroke-width="1.3"/>
<circle cx="424.6" cy="589.7" r="2.65" fill="none" stroke="#2d5189" stroke-width="1.3"/>
<circle cx="421.2" cy="630.8" r="2.65" fill="none" stroke="#2d5189" stroke-width="1.3"/>
<circle cx="418.2" cy="640" r="2.65" fill="none" stroke="#2d5189" stroke-width="1.3"/>
<circle cx="424.6" cy="637.7" r="2.65" fill="none" stroke="#2d5189" stroke-width="1.3"/>
<rect x="435.00" y="631.30" width="5.0" height="5.0" fill="none" stroke="#62a548" stroke-width="1.15"/>
<rect x="436.40" y="637.70" width="5.0" height="5.0" fill="none" stroke="#62a548" stroke-width="1.15"/>
<rect x="440.70" y="637.70" width="5.0" height="5.0" fill="none" stroke="#62a548" stroke-width="1.15"/>
<polygon points="458.10,566.60 460.60,571.50 455.60,571.50" fill="none" stroke="#63306e" stroke-width="1.2"/>
<polygon points="458.10,625.40 460.60,630.30 455.60,630.30" fill="none" stroke="#63306e" stroke-width="1.2"/>
<polygon points="476.50,603.50 479.10,598.40 473.90,598.40" fill="none" stroke="#2d5189" stroke-width="1.2"/>
<polygon points="476.50,615.00 479.10,609.90 473.90,609.90" fill="none" stroke="#2d5189" stroke-width="1.2"/>
<polygon points="475.40,636.90 478.00,631.80 472.80,631.80" fill="none" stroke="#2d5189" stroke-width="1.2"/>
<polygon points="480.00,638.80 482.60,633.70 477.40,633.70" fill="none" stroke="#2d5189" stroke-width="1.2"/>
<polygon points="473.50,645.00 476.10,639.90 470.90,639.90" fill="none" stroke="#2d5189" stroke-width="1.2"/>
<polygon points="495.00,521.65 497.95,524.60 495.00,527.55 492.05,524.60" fill="none" stroke="#a21f39" stroke-width="1.35"/>
<polygon points="495.00,585.55 497.95,588.50 495.00,591.45 492.05,588.50" fill="none" stroke="#a21f39" stroke-width="1.35"/>
<polygon points="491.50,607.05 494.45,610.00 491.50,612.95 488.55,610.00" fill="none" stroke="#a21f39" stroke-width="1.35"/>
<polygon points="498.50,611.65 501.45,614.60 498.50,617.55 495.55,614.60" fill="none" stroke="#a21f39" stroke-width="1.35"/>
<polygon points="495.00,625.55 497.95,628.50 495.00,631.45 492.05,628.50" fill="none" stroke="#a21f39" stroke-width="1.35"/>
</svg>
</body></html>
